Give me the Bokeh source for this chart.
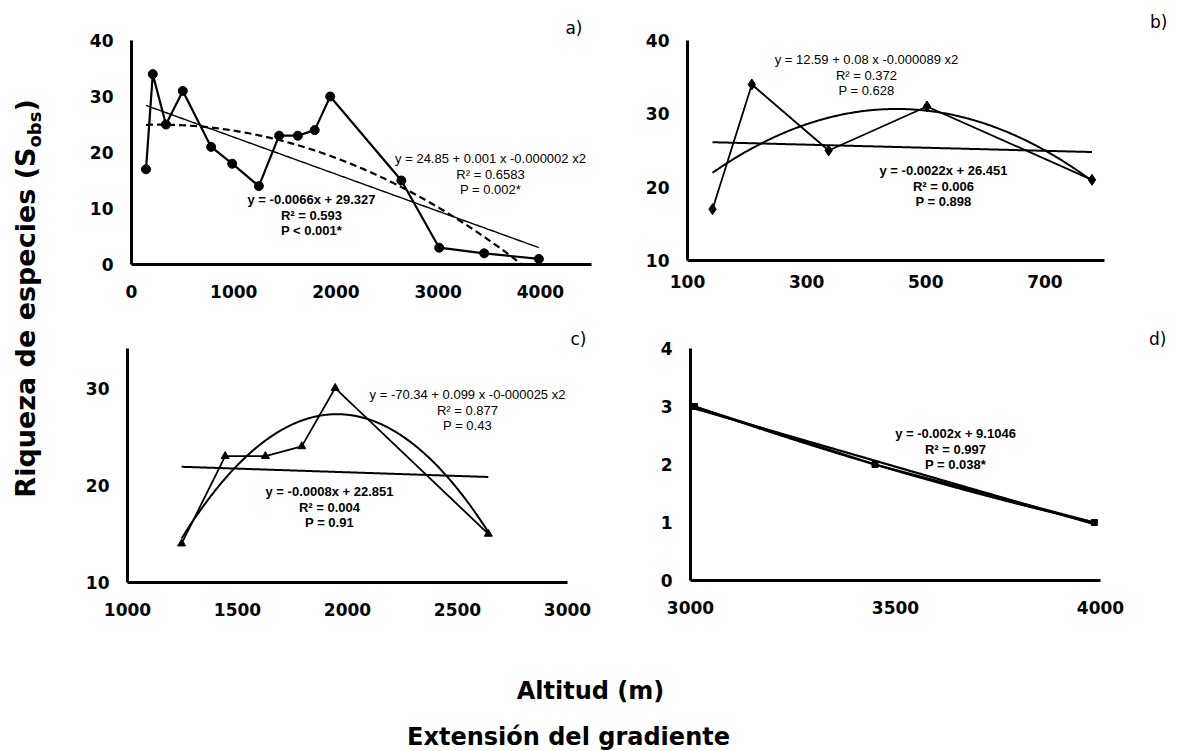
import numpy as np
from bokeh.plotting import figure
from bokeh.layouts import row, column
from bokeh.models import Range1d, Label, FixedTicker
from bokeh.embed import file_html
from bokeh.resources import INLINE

# ---------------- data ----------------
altitude = [142, 208, 337, 502, 779, 985, 1246, 1444, 1627, 1792, 1944, 2640, 3010, 3450, 3985]
richness = [17, 34, 25, 31, 21, 18, 14, 23, 23, 24, 30, 15, 3, 2, 1]

seg_b = slice(0, 5)
seg_c = slice(6, 12)
seg_d = slice(12, 15)

xticks_a = [0, 1000, 2000, 3000, 4000]
yticks_a = [0, 10, 20, 30, 40]
xticks_b = [100, 300, 500, 700]
yticks_b = [10, 20, 30, 40]
xticks_c = [1000, 1500, 2000, 2500, 3000]
yticks_c = [10, 20, 30]
xticks_d = [3000, 3500, 4000]
yticks_d = [0, 1, 2, 3, 4]

eq_a_quad = ["y = 24.85 + 0.001 x -0.000002 x2", "R² = 0.6583", "P = 0.002*"]
eq_a_lin = ["y = -0.0066x + 29.327", "R² = 0.593", "P < 0.001*"]
eq_b_quad = ["y = 12.59 + 0.08 x -0.000089 x2", "R² = 0.372", "P = 0.628"]
eq_b_lin = ["y = -0.0022x + 26.451", "R² = 0.006", "P = 0.898"]
eq_c_quad = ["y = -70.34 + 0.099 x -0-000025 x2", "R² = 0.877", "P = 0.43"]
eq_c_lin = ["y = -0.0008x + 22.851", "R² = 0.004", "P = 0.91"]
eq_d_lin = ["y = -0.002x + 9.1046", "R² = 0.997", "P = 0.038*"]

panel_letters = ["a)", "b)", "c)", "d)"]

y_title = "Riqueza de especies (S"
y_title_sub = "obs"
x_title_1 = "Altitud (m)"
x_title_2 = "Extensión del gradiente"

# ---------------- helpers ----------------
TICK_FONT = "DejaVu Sans"
EQ_FONT = "Liberation Sans"


def make_panel(g, xt, yt):
    p = figure(frame_width=g["fw"], frame_height=g["fh"],
               min_border_left=g["mbl"], min_border_right=g["mbr"],
               min_border_top=g["mbt"], min_border_bottom=g["mbb"],
               x_range=Range1d(*g["xr"]), y_range=Range1d(*g["yr"]),
               output_backend="svg", toolbar_location=None, tools="")
    p.outline_line_color = None
    p.grid.visible = False
    p.background_fill_color = "white"
    p.border_fill_color = "white"
    p.xaxis.ticker = FixedTicker(ticks=xt)
    p.yaxis.ticker = FixedTicker(ticks=yt)
    for ax in (p.xaxis, p.yaxis):
        ax.axis_line_width = 3
        ax.axis_line_color = "black"
        ax.major_tick_line_color = None
        ax.minor_tick_line_color = None
        ax.major_tick_out = 0
        ax.major_tick_in = 0
        ax.minor_tick_out = 0
        ax.minor_tick_in = 0
        ax.major_label_text_font = TICK_FONT
        ax.major_label_text_font_style = "bold"
        ax.major_label_text_font_size = "17px"
        ax.major_label_text_color = "black"
    p.yaxis.major_label_standoff = 18
    p.xaxis.major_label_standoff = g["xso"]
    return p


def set_letter(p, text, offset, standoff):
    p.title.text = text
    p.title.align = "right"
    p.title.offset = offset
    p.title.standoff = standoff
    p.title.text_font = "DejaVu Sans"
    p.title.text_font_style = "normal"
    p.title.text_font_size = "17px"
    p.title.text_color = "black"


def to_data(g, X, Y):
    x0, x1 = g["xr"]
    y0, y1 = g["yr"]
    xd = x0 + (X - g["fl"]) / g["fw"] * (x1 - x0)
    yd = y0 + (g["ft"] + g["fh"] - Y) / g["fh"] * (y1 - y0)
    return xd, yd


def add_text(p, g, X, Y, text, bold=False, size="13px", font=EQ_FONT, align="center"):
    xd, yd = to_data(g, X, Y)
    p.add_layout(Label(x=xd, y=yd, text=text, text_align=align, text_baseline="middle",
                       text_font=font, text_font_size=size,
                       text_font_style="bold" if bold else "normal", text_color="black"))


def add_block(p, g, X, Y0, lines, bold, dy=15.5):
    for i, t in enumerate(lines):
        add_text(p, g, X, Y0 + i * dy, t, bold=bold)


def trend(x, y, deg, n=300):
    c = np.polyfit(np.array(x, float), np.array(y, float), deg)
    xs = np.linspace(min(x), max(x), n)
    return xs, np.polyval(c, xs)


# geometry (screen pixels of each frame; page has no margin; frames of a row share the top)
GA = dict(xr=(0, 4500), yr=(0, 40), fl=131, ft=40, fw=460, fh=224, mbl=71, mbr=9, mbt=40, mbb=44, xso=20)
GB = dict(xr=(100, 800), yr=(10, 40), fl=687, ft=40, fw=417, fh=220, mbl=87, mbr=68, mbt=40, mbb=48, xso=14)
GC = dict(xr=(1000, 3000), yr=(10, 34.07), fl=127, ft=348, fw=440, fh=234, mbl=67, mbr=33, mbt=40, mbb=46, xso=20)
GD = dict(xr=(3000, 4000), yr=(0, 4), fl=690, ft=348, fw=410, fh=232, mbl=90, mbr=72, mbt=40, mbb=48, xso=20)

# ---------------- panel a ----------------
pa = make_panel(GA, xticks_a, yticks_a)
xs, ys = trend(altitude, richness, 1)
pa.line(xs, ys, line_color="black", line_width=1.4)
xs, ys = trend(altitude, richness, 2)
pa.line(xs, ys, line_color="black", line_width=2.2, line_dash="7 4")
pa.line(altitude, richness, line_color="black", line_width=2.2)
pa.scatter(altitude, richness, marker="circle", size=9, color="black")
add_block(pa, GA, 490, 158, eq_a_quad, False)
add_block(pa, GA, 311, 199, eq_a_lin, True)
set_letter(pa, panel_letters[0], 9, 5)

# ---------------- panel b ----------------
xb, yb = altitude[seg_b], richness[seg_b]
pb = make_panel(GB, xticks_b, yticks_b)
xs, ys = trend(xb, yb, 1)
pb.line(xs, ys, line_color="black", line_width=2)
xs, ys = trend(xb, yb, 2)
pb.line(xs, ys, line_color="black", line_width=2)
pb.line(xb, yb, line_color="black", line_width=1.8)
pb.scatter(xb, yb, marker="diamond", size=11, color="black")
add_block(pb, GB, 866, 59, eq_b_quad, False)
add_block(pb, GB, 943, 170, eq_b_lin, True)
set_letter(pb, panel_letters[1], -63, 18)

# ---------------- panel c ----------------
xc, yc = altitude[seg_c], richness[seg_c]
pc = make_panel(GC, xticks_c, yticks_c)
xs, ys = trend(xc, yc, 1)
pc.line(xs, ys, line_color="black", line_width=2)
xs, ys = trend(xc, yc, 2)
pc.line(xs, ys, line_color="black", line_width=2)
pc.line(xc, yc, line_color="black", line_width=1.8)
pc.scatter(xc, yc, marker="triangle", size=8, color="black")
add_block(pc, GC, 467, 394, eq_c_quad, False)
add_block(pc, GC, 329, 491, eq_c_lin, True)
set_letter(pc, panel_letters[2], -19, 0)

# ---------------- panel d ----------------
xd_, yd_ = altitude[seg_d], richness[seg_d]
pd_ = make_panel(GD, xticks_d, yticks_d)
xs, ys = trend(xd_, yd_, 1)
pd_.line(xs, ys, line_color="black", line_width=2.2)
xs, ys = trend(xd_, yd_, 2)
pd_.line(xs, ys, line_color="black", line_width=2.2)
pd_.line(xd_, yd_, line_color="black", line_width=2)
pd_.scatter(xd_, yd_, marker="square", size=6, color="black")
add_block(pd_, GD, 955, 433, eq_d_lin, True)
set_letter(pd_, panel_letters[3], -66, 0)

# ---------------- axis titles ----------------
def blank(w, h, xr, yr):
    f = figure(width=w, height=h, x_range=Range1d(*xr), y_range=Range1d(*yr),
               x_axis_location=None, y_axis_location=None, min_border=0,
               output_backend="svg", toolbar_location=None, tools="")
    f.outline_line_color = None
    f.grid.visible = False
    f.background_fill_color = "white"
    f.border_fill_color = "white"
    return f

ylab = blank(60, 628 + 123, (0, 60), (751, 0))
P_end = 147
ylab.add_layout(Label(x=25, y=P_end, text=y_title, angle=np.pi / 2, text_align="right",
                      text_baseline="middle", text_font="DejaVu Sans", text_font_style="bold",
                      text_font_size="27px", text_color="black"))
ylab.add_layout(Label(x=33.5, y=P_end, text=y_title_sub, angle=np.pi / 2, text_align="left",
                      text_baseline="middle", text_font="DejaVu Sans", text_font_style="bold",
                      text_font_size="18px", text_color="black"))
ylab.add_layout(Label(x=25, y=P_end - 36, text=")", angle=np.pi / 2, text_align="left",
                      text_baseline="middle", text_font="DejaVu Sans", text_font_style="bold",
                      text_font_size="27px", text_color="black"))

xlab = blank(1112, 123, (60, 1172), (751, 628))
xlab.add_layout(Label(x=590, y=690, text=x_title_1, text_align="center", text_baseline="middle",
                      text_font="DejaVu Sans", text_font_style="bold", text_font_size="24px",
                      text_color="black"))
xlab.add_layout(Label(x=568, y=736, text=x_title_2, text_align="center", text_baseline="middle",
                      text_font="DejaVu Sans", text_font_style="bold", text_font_size="24px",
                      text_color="black"))

layout = row(ylab, column(row(pa, pb), row(pc, pd_), xlab))

open("out.html", "w").write(file_html(layout, INLINE))
